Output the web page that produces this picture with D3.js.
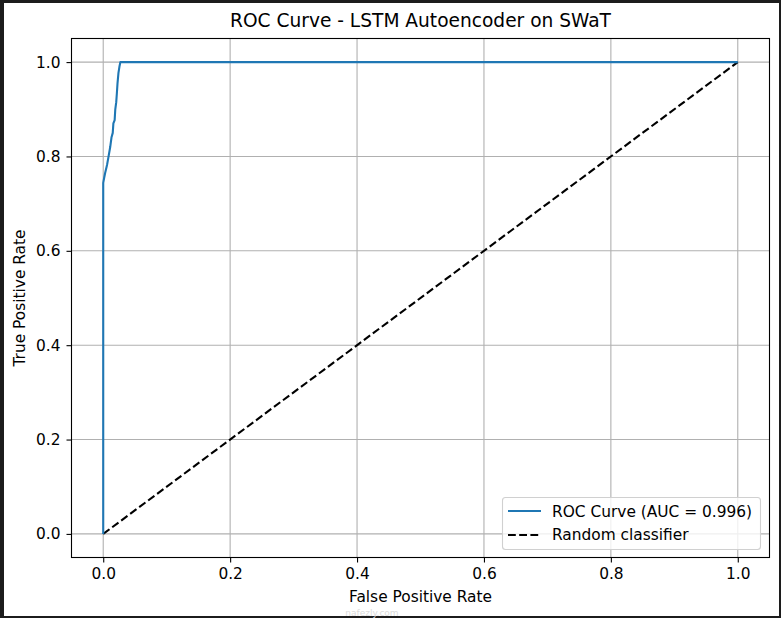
<!DOCTYPE html>
<html><head><meta charset="utf-8">
<script src="https://cdn.jsdelivr.net/npm/d3@7"></script>
<style>
html,body{margin:0;padding:0;background:#1c1c1c;}
svg{display:block;font-family:"DejaVu Sans",sans-serif;}
</style></head>
<body>
<script>
// ROC curve points (False Positive Rate, True Positive Rate)
const rocFpr = [0, 0, 0.0015, 0.003, 0.006, 0.008, 0.011, 0.013, 0.015, 0.016, 0.018, 0.019, 0.0205, 0.0215, 0.0225, 0.024, 0.0255, 0.027, 0.03, 0.1, 0.5, 1.0];
const rocTpr = [0, 0.744, 0.755, 0.765, 0.782, 0.797, 0.82, 0.84, 0.85, 0.87, 0.877, 0.9, 0.915, 0.934, 0.955, 0.977, 0.99, 1.0, 1.0, 1.0, 1.0, 1.0];
const randomX = [0, 1];
const randomY = [0, 1];
const xTicks = [0.0, 0.2, 0.4, 0.6, 0.8, 1.0];
const yTicks = [0.0, 0.2, 0.4, 0.6, 0.8, 1.0];
const aucLabel = "ROC Curve (AUC = 0.996)";
const randomLabel = "Random classifier";

(function(){
const W = 781, H = 618;
const FS = "15.4px";
const svg = d3.select("body").append("svg").attr("width", W).attr("height", H);
svg.append("rect").attr("x",0).attr("y",0).attr("width",W).attr("height",H).attr("fill","#1c1c1c");
svg.append("rect").attr("x",4).attr("y",3).attr("width",775).attr("height",613).attr("fill","#ffffff");

const pL = 71.5, pR = 769.5, pT = 38.5, pB = 557.5;
const x = d3.scaleLinear().domain([-0.05, 1.05]).range([pL, pR]);
const y = d3.scaleLinear().domain([-0.05, 1.05]).range([pB, pT]);

const g = svg.append("g");
g.selectAll(".gx").data(xTicks).enter().append("line")
  .attr("x1", d=>x(d)).attr("x2", d=>x(d)).attr("y1", pT).attr("y2", pB)
  .attr("stroke","#b0b0b0").attr("stroke-width",1.1);
g.selectAll(".gy").data(yTicks).enter().append("line")
  .attr("y1", d=>y(d)).attr("y2", d=>y(d)).attr("x1", pL).attr("x2", pR)
  .attr("stroke","#b0b0b0").attr("stroke-width",1.1);

const line = d3.line().x(d=>x(d[0])).y(d=>y(d[1]));
svg.append("path").datum(d3.zip(randomX, randomY)).attr("d", line)
  .attr("fill","none").attr("stroke","#000").attr("stroke-width",2.1)
  .attr("stroke-dasharray","7.8,3.4");
svg.append("path").datum(d3.zip(rocFpr, rocTpr)).attr("d", line)
  .attr("fill","none").attr("stroke","#1f77b4").attr("stroke-width",2.1)
  .attr("stroke-linejoin","round");

const xAxis = d3.axisBottom(x).tickValues(xTicks).tickFormat(d3.format(".1f")).tickSize(5).tickPadding(6);
const yAxis = d3.axisLeft(y).tickValues(yTicks).tickFormat(d3.format(".1f")).tickSize(5).tickPadding(6);
const ax = svg.append("g").attr("transform",`translate(0,${pB})`).call(xAxis);
const ay = svg.append("g").attr("transform",`translate(${pL},0)`).call(yAxis);
[ax, ay].forEach(a=>{
  a.select(".domain").remove();
  a.selectAll("line").attr("stroke","#000").attr("stroke-width",1.1);
  a.selectAll("text").attr("font-size",FS).attr("fill","#000").attr("font-family","DejaVu Sans");
});
svg.append("rect").attr("x",pL).attr("y",pT).attr("width",pR-pL).attr("height",pB-pT)
  .attr("fill","none").attr("stroke","#000").attr("stroke-width",1.1);

svg.append("text").attr("x",(pL+pR)/2).attr("y",27).attr("text-anchor","middle")
  .attr("font-size","18.6px").text("ROC Curve - LSTM Autoencoder on SWaT");
svg.append("text").attr("x",(pL+pR)/2).attr("y",602).attr("text-anchor","middle")
  .attr("font-size",FS).text("False Positive Rate");
svg.append("text").attr("transform",`translate(25,${(pT+pB)/2}) rotate(-90)`).attr("text-anchor","middle")
  .attr("font-size",FS).text("True Positive Rate");

const lg = svg.append("g");
lg.append("rect").attr("x",502.5).attr("y",497.5).attr("width",258).attr("height",52).attr("rx",3)
  .attr("fill","#fff").attr("fill-opacity",0.8).attr("stroke","#d0d0d0").attr("stroke-width",1.1);
lg.append("line").attr("x1",508).attr("x2",541).attr("y1",511).attr("y2",511)
  .attr("stroke","#1f77b4").attr("stroke-width",2.1);
lg.append("line").attr("x1",508).attr("x2",541).attr("y1",535).attr("y2",535)
  .attr("stroke","#000").attr("stroke-width",2.1).attr("stroke-dasharray","7.8,3.4");
lg.append("text").attr("x",552).attr("y",517).attr("font-size",FS).text(aucLabel);
lg.append("text").attr("x",552).attr("y",540).attr("font-size",FS).text(randomLabel);

svg.append("text").attr("x",372).attr("y",616).attr("text-anchor","middle")
  .attr("font-size","9px").attr("fill","#dcdcdc").text("nafezly.com");
})();
</script>
</body></html>
